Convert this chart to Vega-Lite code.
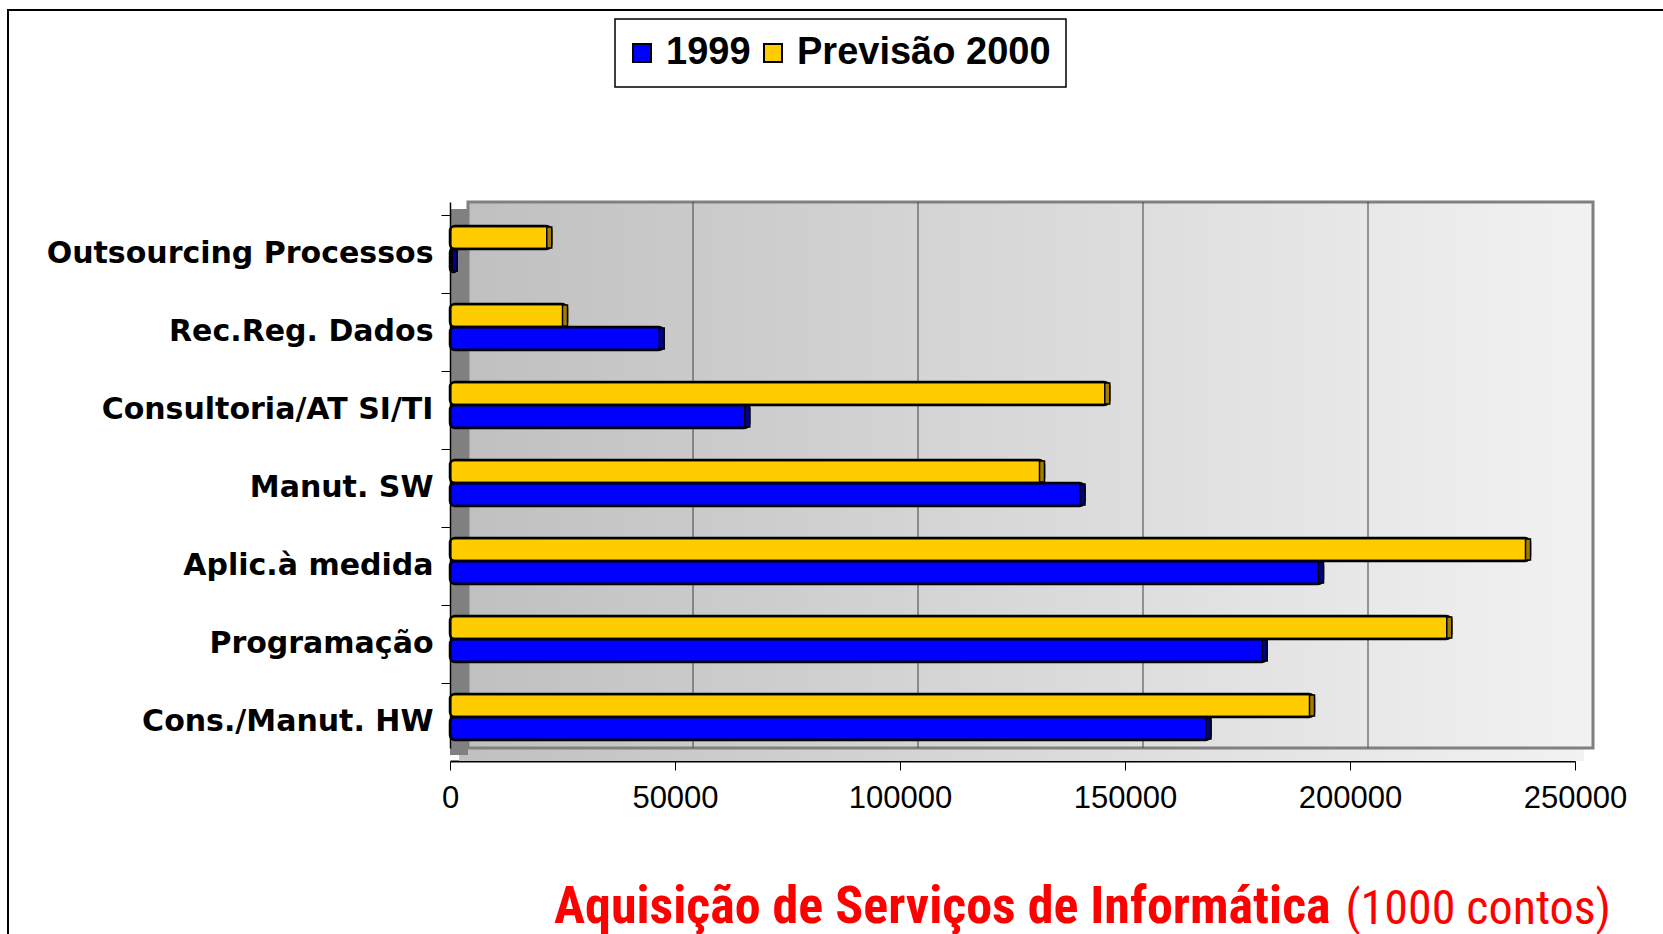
{
  "$schema": "https://vega.github.io/schema/vega-lite/v6.json",
  "width": 1660,
  "height": 929,
  "autosize": {"type": "none"},
  "padding": {"left": 8, "top": 10, "right": 0, "bottom": 0},
  "background": "white",
  "config": {
    "view": {"stroke": "#000000", "strokeWidth": 2},
    "font": "Liberation Sans",
    "legend": {"strokeWidth": 1.5}
  },
  "title": {
    "text": "Aquisição de Serviços de Informática",
    "orient": "bottom",
    "anchor": "start",
    "frame": "group",
    "offset": 0,
    "dx": 546,
    "dy": -16,
    "baseline": "alphabetic",
    "font": "'Liberation Sans Narrow', 'Roboto Condensed', 'Liberation Sans', sans-serif",
    "fontSize": 52,
    "fontWeight": "bold",
    "color": "#FF0000"
  },
  "datasets": {
    "bars": [
      {"cat": "Outsourcing Processos", "year": "1999", "value": 1500},
      {"cat": "Outsourcing Processos", "year": "Previsão 2000", "value": 22500},
      {"cat": "Rec.Reg. Dados", "year": "1999", "value": 47500},
      {"cat": "Rec.Reg. Dados", "year": "Previsão 2000", "value": 26000},
      {"cat": "Consultoria/AT SI/TI", "year": "1999", "value": 66500},
      {"cat": "Consultoria/AT SI/TI", "year": "Previsão 2000", "value": 146500},
      {"cat": "Manut. SW", "year": "1999", "value": 141000},
      {"cat": "Manut. SW", "year": "Previsão 2000", "value": 132000},
      {"cat": "Aplic.à medida", "year": "1999", "value": 194000},
      {"cat": "Aplic.à medida", "year": "Previsão 2000", "value": 240000},
      {"cat": "Programação", "year": "1999", "value": 181500},
      {"cat": "Programação", "year": "Previsão 2000", "value": 222500},
      {"cat": "Cons./Manut. HW", "year": "1999", "value": 169000},
      {"cat": "Cons./Manut. HW", "year": "Previsão 2000", "value": 192000}
    ],
    "grid": [{"g": 50000}, {"g": 100000}, {"g": 150000}, {"g": 200000}],
    "one": [{"k": 1}]
  },
  "layer": [
    {
      "data": {"name": "one"},
      "mark": {
        "type": "rect",
        "xOffset": 9, "x2Offset": 9, "y2Offset": 13,
        "fill": {"gradient": "linear", "x1": 0, "y1": 0, "x2": 1, "y2": 0,
          "stops": [{"offset": 0, "color": "#c0c0c0"}, {"offset": 1, "color": "#f2f2f2"}]}
      },
      "encoding": {
        "x": {"datum": 0, "type": "quantitative"},
        "x2": {"datum": 250000},
        "y": {"datum": "Cons./Manut. HW", "type": "nominal", "bandPosition": 1},
        "y2": {"datum": "Cons./Manut. HW", "bandPosition": 1}
      }
    },
    {
      "data": {"name": "one"},
      "mark": {"type": "rect", "fill": "#808080", "yOffset": 7, "y2Offset": 7},
      "encoding": {
        "x": {"datum": 0, "type": "quantitative"},
        "x2": {"datum": 4000},
        "y": {"datum": "Outsourcing Processos", "type": "nominal", "bandPosition": 0},
        "y2": {"datum": "Cons./Manut. HW", "bandPosition": 1}
      }
    },
    {
      "data": {"name": "one"},
      "mark": {
        "type": "rect",
        "xOffset": 18, "x2Offset": 18,
        "stroke": "#808080",
        "strokeWidth": 3,
        "fill": {"gradient": "linear", "x1": 0, "y1": 0, "x2": 1, "y2": 0,
          "stops": [{"offset": 0, "color": "#c0c0c0"}, {"offset": 1, "color": "#f2f2f2"}]}
      },
      "encoding": {
        "x": {"datum": 0, "type": "quantitative"},
        "x2": {"datum": 250000},
        "y": {"datum": "Outsourcing Processos", "type": "nominal", "bandPosition": 0},
        "y2": {"datum": "Cons./Manut. HW", "bandPosition": 1}
      }
    },
    {
      "data": {"name": "grid"},
      "mark": {"type": "rule", "color": "#404040", "strokeWidth": 1, "xOffset": 18},
      "encoding": {
        "x": {"field": "g", "type": "quantitative"},
        "y": {"datum": "Outsourcing Processos", "type": "nominal", "bandPosition": 0},
        "y2": {"datum": "Cons./Manut. HW", "bandPosition": 1}
      }
    },
    {
      "data": {"name": "bars"},
      "mark": {"type": "bar", "stroke": "#000000", "strokeWidth": 2.5, "cornerRadius": 5},
      "encoding": {
        "y": {
          "field": "cat",
          "type": "nominal",
          "scale": {
            "domain": ["Outsourcing Processos", "Rec.Reg. Dados", "Consultoria/AT SI/TI", "Manut. SW", "Aplic.à medida", "Programação", "Cons./Manut. HW"],
            "range": [192, 738],
            "paddingInner": 0,
            "paddingOuter": 0
          },
          "axis": {
            "title": null,
            "orient": "left",
            "offset": -442,
            "bandPosition": 0.1667,
            "tickSize": 9,
            "tickColor": "#000000",
            "domainColor": "#000000",
            "domainWidth": 1.5,
            "labelFont": "DejaVu Sans",
            "labelFontSize": 30,
            "labelFontWeight": "bold",
            "labelColor": "#000000",
            "labelPadding": 8,
            "labelOffset": 13,
            "labelLimit": 0,
            "grid": false
          }
        },
        "yOffset": {
          "field": "year",
          "type": "nominal",
          "scale": {"domain": ["Previsão 2000", "1999"], "paddingInner": 0, "paddingOuter": 0.696, "align": 0.75}
        },
        "x": {
          "field": "value",
          "type": "quantitative",
          "scale": {"domain": [0, 250000], "range": [442, 1567], "nice": false, "zero": true},
          "axis": {
            "orient": "bottom",
            "offset": -178,
            "values": [0, 50000, 100000, 150000, 200000, 250000],
            "format": "d",
            "grid": false,
            "tickSize": 9,
            "tickColor": "#000000",
            "domainColor": "#000000",
            "domainWidth": 2,
            "labelFont": "Liberation Sans",
            "labelFontSize": 31,
            "labelColor": "#000000",
            "labelPadding": 13,
            "labelFlush": false,
            "labelOverlap": false,
            "labelBound": false,
            "title": "(1000 contos)",
            "titleFont": "'Liberation Sans Narrow', 'Roboto Condensed', 'Liberation Sans', sans-serif",
            "titleFontSize": 48,
            "titleFontWeight": "normal",
            "titleColor": "#FF0000",
            "titleAlign": "left",
            "titleAnchor": null,
            "titleBaseline": "alphabetic",
            "titleX": 1337,
            "titleY": 162
          }
        },
        "color": {
          "field": "year",
          "type": "nominal",
          "scale": {"domain": ["1999", "Previsão 2000"], "range": ["#0000FF", "#FFCC00"]},
          "legend": {
            "title": null,
            "orient": "none",
            "legendX": 607,
            "legendY": 9,
            "direction": "horizontal",
            "strokeColor": "#000000",
            "padding": 15,
            "symbolType": "square",
            "symbolSize": 324,
            "symbolOffset": -7,
            "symbolStrokeColor": "#000000",
            "symbolStrokeWidth": 2,
            "symbolOpacity": 1,
            "labelFont": "Liberation Sans",
            "labelFontSize": 38,
            "labelFontWeight": "bold",
            "labelColor": "#000000",
            "labelOffset": 5,
            "columnPadding": 9,
            "labelLimit": 0
          }
        }
      }
    },
    {
      "data": {"name": "bars"},
      "mark": {"type": "tick", "thickness": 5, "size": 21, "stroke": "#000000", "strokeWidth": 1.5, "xOffset": -2},
      "encoding": {
        "y": {"field": "cat", "type": "nominal"},
        "yOffset": {"field": "year", "type": "nominal"},
        "x": {"field": "value", "type": "quantitative"},
        "fill": {"condition": {"test": "datum.year === '1999'", "value": "#00008B"}, "value": "#A37D00"},
        "opacity": {"value": 1}
      }
    }
  ]
}
